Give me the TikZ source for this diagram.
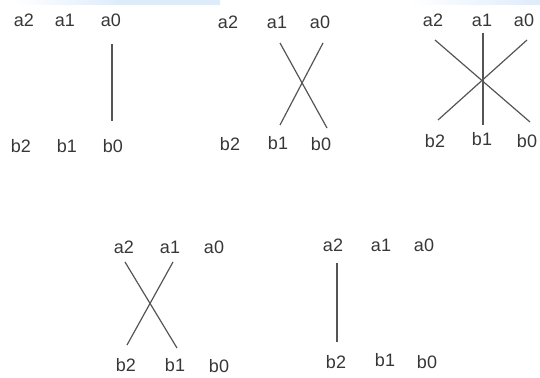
\documentclass[tikz,border=0pt]{standalone}
\usepackage{fontspec}
\setmainfont{Liberation Sans}
\usetikzlibrary{calc}
\definecolor{txt}{RGB}{55,55,55}
\definecolor{ln}{RGB}{85,85,85}
\definecolor{band}{RGB}{222,236,250}
\tikzset{
  lbl/.style={inner sep=0pt, text=txt, font=\fontsize{18}{18}\selectfont},
  wire/.style={draw=ln, line width=1.2pt},
}
\begin{document}
\begin{tikzpicture}[x=1pt,y=-1pt]
\useasboundingbox (0,0) rectangle (540,377);
% faint band at the top
\shade[left color=white, right color=band, middle color=band] (15,0) rectangle (220,5);
\shade[left color=white, right color=band] (410,0) rectangle (540,5);
% group 1
\node[lbl] (g1a2) at (24,20) {a2};
\node[lbl] (g1a1) at (65,20) {a1};
\node[lbl] (g1a0) at (111,20) {a0};
\node[lbl] (g1b2) at (21,146) {b2};
\node[lbl] (g1b1) at (67,146) {b1};
\node[lbl] (g1b0) at (113,146) {b0};
\draw[wire] ($(g1a0)+(1,24)$) -- ($(g1b0)+(-1,-25)$);
% group 2
\node[lbl] (g2a2) at (228,22) {a2};
\node[lbl] (g2a1) at (277,22) {a1};
\node[lbl] (g2a0) at (320,22) {a0};
\node[lbl] (g2b2) at (230,144) {b2};
\node[lbl] (g2b1) at (278,143) {b1};
\node[lbl] (g2b0) at (321,144) {b0};
\draw[wire] ($(g2a1)+(3,21)$) -- ($(g2b0)+(6,-16)$);
\draw[wire] ($(g2a0)+(3,21)$) -- ($(g2b1)+(2,-18)$);
% group 3
\node[lbl] (g3a2) at (433,20) {a2};
\node[lbl] (g3a1) at (482,20) {a1};
\node[lbl] (g3a0) at (524,20) {a0};
\node[lbl] (g3b2) at (435,141) {b2};
\node[lbl] (g3b1) at (482,139) {b1};
\node[lbl] (g3b0) at (527,141) {b0};
\draw[wire] ($(g3a2)+(2,20)$) -- ($(g3b0)+(3,-19)$);
\draw[wire] ($(g3a0)+(3,20)$) -- ($(g3b2)+(3,-21)$);
\draw[wire] ($(g3a1)+(1,13)$) -- ($(g3b1)+(1,-14)$);
% group 4
\node[lbl] (g4a2) at (124,247) {a2};
\node[lbl] (g4a1) at (170,247) {a1};
\node[lbl] (g4a0) at (214,247) {a0};
\node[lbl] (g4b2) at (126,365) {b2};
\node[lbl] (g4b1) at (175,365) {b1};
\node[lbl] (g4b0) at (219,366) {b0};
\draw[wire] ($(g4a2)+(1,15)$) -- ($(g4b1)+(2,-17)$);
\draw[wire] ($(g4a1)+(3,15)$) -- ($(g4b2)+(1,-20)$);
% group 5
\node[lbl] (g5a2) at (333,245) {a2};
\node[lbl] (g5a1) at (381,245) {a1};
\node[lbl] (g5a0) at (424,245) {a0};
\node[lbl] (g5b2) at (336,362) {b2};
\node[lbl] (g5b1) at (385,360) {b1};
\node[lbl] (g5b0) at (427,362) {b0};
\draw[wire] ($(g5a2)+(4,18)$) -- ($(g5b2)+(1,-20)$);
\end{tikzpicture}
\end{document}
